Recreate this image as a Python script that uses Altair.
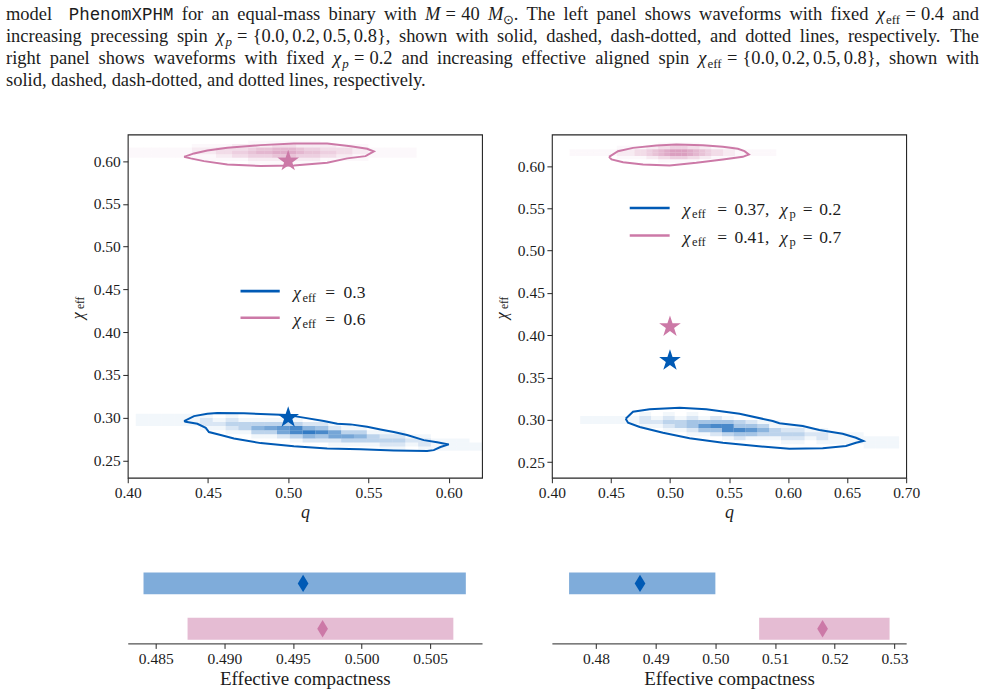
import altair as alt
import pandas as pd

# ------------------------------------------------------------------ colours / fonts
BLUE = "#005AB5"
PINK = "#CC79A7"
INK = "#1c1c1c"
FRAME = "#262626"
SERIF = "Liberation Serif"
MONO = "Liberation Mono"

RUNS = ["blue", "pink"]

# ------------------------------------------------------------------ data
# Left panel: injections chi_eff = 0.3 (blue) and 0.6 (pink), q = 0.5.
# 90% credible contours in (q, chi_eff).
LB_Q = [0.4351, 0.4413, 0.4496, 0.4558, 0.4724, 0.4994, 0.5077, 0.5222, 0.5306, 0.5389,
        0.5492, 0.5575, 0.5658, 0.5741, 0.5845, 0.5928, 0.6001, 0.5949, 0.5907, 0.5866,
        0.5658, 0.5451, 0.5243, 0.5035, 0.4828, 0.4662, 0.4579, 0.4506, 0.4486, 0.4434, 0.4361]
LB_CHI = [0.2960, 0.3018, 0.3045, 0.3053, 0.3050, 0.3030, 0.3006, 0.2960, 0.2928, 0.2921,
          0.2893, 0.2862, 0.2831, 0.2796, 0.2737, 0.2711, 0.2687, 0.2656, 0.2620, 0.2609,
          0.2617, 0.2629, 0.2640, 0.2664, 0.2702, 0.2757, 0.2796, 0.2831, 0.2881, 0.2928, 0.2951]
LP_Q = [0.4351, 0.4413, 0.4496, 0.4621, 0.4828, 0.5035, 0.5243, 0.5389, 0.5492, 0.5534,
        0.5482, 0.5368, 0.5243, 0.5035, 0.4828, 0.4621, 0.4475, 0.4392]
LP_CHI = [0.6050, 0.6090, 0.6125, 0.6156, 0.6187, 0.6207, 0.6207, 0.6175, 0.6144, 0.6113,
          0.6058, 0.6032, 0.5980, 0.5950, 0.5942, 0.5961, 0.6000, 0.6032]

# Right panel: (chi_eff, chi_p) = (0.37, 0.2) blue and (0.41, 0.7) pink, q = 0.5.
RB_Q = [0.4625, 0.4687, 0.4828, 0.5082, 0.5307, 0.5589, 0.5870, 0.5927, 0.6124, 0.6265,
        0.6462, 0.6575, 0.6637, 0.6575, 0.6490, 0.6293, 0.6011, 0.5730, 0.5448, 0.5166,
        0.4941, 0.4744, 0.4645]
RB_CHI = [0.3012, 0.3095, 0.3123, 0.3142, 0.3123, 0.3071, 0.2985, 0.2958, 0.2926, 0.2878,
          0.2835, 0.2787, 0.2748, 0.2728, 0.2689, 0.2662, 0.2657, 0.2689, 0.2728, 0.2780,
          0.2846, 0.2914, 0.2965]
RP_Q = [0.4484, 0.4560, 0.4687, 0.4885, 0.5054, 0.5279, 0.5448, 0.5575, 0.5631, 0.5668,
        0.5617, 0.5448, 0.5223, 0.4997, 0.4772, 0.4603, 0.4505]
RP_CHI = [0.6110, 0.6177, 0.6216, 0.6245, 0.6257, 0.6248, 0.6228, 0.6205, 0.6177, 0.6138,
          0.6110, 0.6079, 0.6039, 0.6008, 0.6020, 0.6047, 0.6079]

# Injected values (stars)
L_INJ_Q, L_INJ_CHI = [0.5, 0.5], [0.30, 0.60]
R_INJ_Q, R_INJ_CHI = [0.5, 0.5], [0.37, 0.41]

# 2D posterior histograms: first q edge, q bin width, top chi_eff edge, chi_eff bin width,
# then relative counts (0-9) per row, top row first.
LB_GRID = (0.405, 0.008, 0.3093, 0.0048)
LB_COUNTS = [
    "000000000000000000000000000",
    "111111010000000000000000000",
    "111112121111100000000000000",
    "111112233333322100000000000",
    "000001123567854211000000000",
    "000000011336898633111000000",
    "000000000112354665322110000",
    "000000000000122233333221110",
    "000000000000000111122121111",
    "000000000000000000011011111",
]
LP_GRID = (0.400, 0.005, 0.624, 0.004)
LP_COUNTS = [
    "0000000000000001111111110000000000000000",
    "0000000011111222223332222211110000000000",
    "1111111122233334556665443333221111110000",
    "1111111122233445667776554433221111110000",
    "1111111111122334445554443322111111110000",
    "0000000011111112222222221111110000000000",
    "0000000000000001111111110000000000000000",
]
RB_GRID = (0.424, 0.010, 0.3093, 0.0048)
RB_COUNTS = [
    "000001010100000000000000000",
    "111112121212100000000000000",
    "111112233444432110000000000",
    "000001123478844311100000000",
    "000000011244887532211000000",
    "000000000112344333322111000",
    "000000000000121112212111111",
    "000000000000000001101111111",
    "000000000000000000000000111",
]
RP_GRID = (0.415, 0.005, 0.628, 0.004)
RP_COUNTS = [
    "00000000000000011111110000000000000000",
    "00000000111112233444332211110000000000",
    "11111111222334567888765433221111111000",
    "11111111222334567888765433221111111000",
    "00000000111112233444332211110000000000",
    "00000000000000011111110000000000000000",
]

# Effective compactness: 90% interval and median, blue / pink runs
L_C_LO, L_C_HI, L_C_MED = [0.48411, 0.48732], [0.50760, 0.50669], [0.49574, 0.49716]
R_C_LO, R_C_HI, R_C_MED = [0.47550, 0.50733], [0.50000, 0.52917], [0.48738, 0.51795]

# Axis settings
L_X_DOMAIN, L_Y_DOMAIN = [0.40, 0.6208], [0.2297, 0.6312]
R_X_DOMAIN, R_Y_DOMAIN = [0.40, 0.70], [0.2314, 0.6375]
L_X_TICKS = [0.40, 0.45, 0.50, 0.55, 0.60]
R_X_TICKS = [0.40, 0.45, 0.50, 0.55, 0.60, 0.65, 0.70]
Y_TICKS = [0.25, 0.30, 0.35, 0.40, 0.45, 0.50, 0.55, 0.60]
LB_X_DOMAIN, LB_X_TICKS = [0.48296, 0.50878], [0.485, 0.490, 0.495, 0.500, 0.505]
RB_X_DOMAIN, RB_X_TICKS = [0.47262, 0.53195], [0.48, 0.49, 0.50, 0.51, 0.52, 0.53]

# ------------------------------------------------------------------ layout
PAGE_W, PAGE_H = 987, 697
PANEL_W, PANEL_H = 355, 344
BOT_H = 92
CAP_H = 59
COL_GAP, ROW_GAP = 70, 74
PAD_LEFT = 127
BOTTOM_MARGIN = PAGE_H - (CAP_H + ROW_GAP + PANEL_H + ROW_GAP + BOT_H)

STAR = ("M0,-1L0.2245,-0.309L0.9511,-0.309L0.3633,0.118L0.5878,0.809L0,0.382"
        "L-0.5878,0.809L-0.3633,0.118L-0.9511,-0.309L-0.2245,-0.309Z")
THIN_DIAMOND = "M0,-1L0.62,0L0,1L-0.62,0Z"

# shading of histogram cells: piecewise-linear opacity against relative count
HEAT_STOPS = [0, 1, 2, 3, 5, 9]
HEAT_OPACITY = [0.0, 0.05, 0.15, 0.26, 0.45, 0.8]

COLORS = alt.Scale(domain=RUNS, range=[BLUE, PINK])
ONE = pd.DataFrame({"k": [0]})


def hist_frame(counts, grid, run):
    q0, dq, c_top, dc = grid
    recs = []
    for i, row in enumerate(counts):
        for j, ch in enumerate(row):
            v = int(ch)
            if v:
                recs.append(dict(q=q0 + j * dq, q2=q0 + (j + 1) * dq,
                                 chi=c_top - (i + 1) * dc, chi2=c_top - i * dc, w=v, run=run))
    return pd.DataFrame(recs)


def contour_frame(qs, cs, run):
    qs = list(qs) + [qs[0]]
    cs = list(cs) + [cs[0]]
    return pd.DataFrame({"q": qs, "chi": cs, "i": range(len(qs)), "run": run})


def txt(s, x, y, size, style="normal", font=SERIF, align="left", baseline="alphabetic", angle=0):
    kw = dict(text=s, font=font, fontSize=size, fontStyle=style, align=align,
              baseline=baseline, color=INK)
    if angle:
        kw["angle"] = angle
    return alt.Chart(ONE).mark_text(**kw).encode(x=alt.value(x), y=alt.value(y))


def rule(color, x1, x2, y, width=2.6, opacity=1.0):
    return alt.Chart(ONE).mark_rule(color=color, strokeWidth=width, opacity=opacity).encode(
        x=alt.value(x1), x2=alt.value(x2), y=alt.value(y))


def y_title():
    return [txt("χ", -50, 185.3, 16, style="italic", baseline="middle", angle=270),
            txt("eff", -46.5, 175, 11.5, baseline="middle", angle=270)]


def top_panel(heat, contour, stars, xdom, xticks, ydom, extras):
    xs = alt.Scale(domain=xdom, nice=False, zero=False)
    ys = alt.Scale(domain=ydom, nice=False, zero=False)
    x_axis = alt.Axis(values=xticks, format=".2f", title="q", titleFontStyle="italic",
                      titleFontSize=18, titlePadding=2, domain=False, tickSize=5,
                      labelPadding=3, labelFlush=False, labelOverlap=False)
    y_axis = alt.Axis(values=Y_TICKS, format=".2f", title="", domain=False, tickSize=5,
                      labelPadding=2.5, labelOverlap=False)
    X = lambda f: alt.X(f, type="quantitative", scale=xs, axis=x_axis)
    Y = lambda f: alt.Y(f, type="quantitative", scale=ys, axis=y_axis)
    col = alt.Color("run:N", scale=COLORS, legend=None)

    h = alt.Chart(heat).mark_rect(clip=True, strokeWidth=0).encode(
        x=X("q"), x2=alt.X2("q2"), y=Y("chi"), y2=alt.Y2("chi2"), color=col,
        opacity=alt.Opacity("w:Q", scale=alt.Scale(type="linear", domain=HEAT_STOPS,
                                                   range=HEAT_OPACITY), legend=None))
    c = alt.Chart(contour).mark_line(clip=True, strokeWidth=2).encode(
        x=X("q"), y=Y("chi"), color=col, order="i:Q")
    s = alt.Chart(stars).mark_point(shape=STAR, filled=True, size=520, opacity=1).encode(
        x=X("q"), y=Y("chi"), color=col)
    return alt.layer(h, c, s, *extras).properties(
        width=PANEL_W, height=PANEL_H, view=alt.ViewBackground(stroke=FRAME, strokeWidth=1.1))


def bottom_panel(lo, hi, med, xdom, xticks, fmt, extras=()):
    df = pd.DataFrame({"run": RUNS, "pos": [1, 0], "lo": lo, "hi": hi, "med": med})
    xs = alt.Scale(domain=xdom, nice=False, zero=False)
    ys = alt.Scale(domain=[-0.213, 1.591], nice=False, zero=False)
    ax = alt.Axis(values=xticks, format=fmt, title="Effective compactness", titleFontSize=19,
                  titlePadding=3, labelFlush=False, labelOverlap=False, tickSize=5, labelPadding=3)
    col = alt.Color("run:N", scale=COLORS, legend=None)
    bars = alt.Chart(df).mark_bar(size=22, opacity=0.5).encode(
        x=alt.X("lo:Q", scale=xs, axis=ax), x2=alt.X2("hi"),
        y=alt.Y("pos:Q", scale=ys, axis=None), color=col)
    meds = alt.Chart(df).mark_point(shape=THIN_DIAMOND, filled=True, size=300, opacity=1).encode(
        x=alt.X("med:Q", scale=xs, axis=ax), y=alt.Y("pos:Q", scale=ys, axis=None), color=col)
    return alt.layer(bars, meds, *extras).properties(width=PANEL_W, height=BOT_H)


# ------------------------------------------------------------------ caption (justified text)
TIMES = {" ": .25, ",": .25, ".": .25, "-": .333, "{": .48, "}": .48, "=": .564,
         "T": .611, "M": .889, "P": .556, "X": .722, "H": .722,
         "a": .444, "b": .5, "c": .444, "d": .5, "e": .444, "f": .333, "g": .5, "h": .5,
         "i": .278, "k": .5, "l": .278, "m": .778, "n": .5, "o": .5, "p": .5, "q": .5,
         "r": .333, "s": .389, "t": .278, "u": .5, "v": .5, "w": .722, "x": .5, "y": .5,
         "⊙": .8}
TIMES.update({str(d): .5 for d in range(10)})
ITALIC = {"M": .833, "p": .5, "χ": .5}
CAP_SIZE = {"R": 18.5, "I": 18.5, "M": 17.5, "S": 13, "SI": 13}
CAP_FONT = {"R": (SERIF, "normal"), "I": (SERIF, "italic"), "M": (MONO, "normal"),
            "S": (SERIF, "normal"), "SI": (SERIF, "italic")}
SUB_DY = 3.8
GAP = {"math": 0.278 * 18.5, "thin": 0.167 * 18.5, "none": 0.0, "start": 0.0}
LINE_LEFT, LINE_RIGHT = 5, 980

CAPTION = [
    (18.5, True, [("model", "R", "start"), ("PhenomXPHM", "M", "sp2"), ("for", "R", "sp"),
                  ("an", "R", "sp"), ("equal-mass", "R", "sp"), ("binary", "R", "sp"),
                  ("with", "R", "sp"), ("M", "I", "sp"), ("=", "R", "math"), ("40", "R", "math"),
                  ("M", "I", "sp"), ("⊙", "S", "none"), (".", "R", "none"), ("The", "R", "sp"),
                  ("left", "R", "sp"), ("panel", "R", "sp"), ("shows", "R", "sp"),
                  ("waveforms", "R", "sp"), ("with", "R", "sp"), ("fixed", "R", "sp"),
                  ("χ", "I", "sp"), ("eff", "S", "none"), ("=", "R", "math"),
                  ("0.4", "R", "math"), ("and", "R", "sp")]),
    (40.5, True, [("increasing", "R", "start"), ("precessing", "R", "sp"), ("spin", "R", "sp"),
                  ("χ", "I", "sp"), ("p", "SI", "none"), ("=", "R", "math"),
                  ("{0.0,", "R", "math"), ("0.2,", "R", "thin"), ("0.5,", "R", "thin"),
                  ("0.8},", "R", "thin"), ("shown", "R", "sp"), ("with", "R", "sp"),
                  ("solid,", "R", "sp"), ("dashed,", "R", "sp"), ("dash-dotted,", "R", "sp"),
                  ("and", "R", "sp"), ("dotted", "R", "sp"), ("lines,", "R", "sp"),
                  ("respectively.", "R", "sp"), ("The", "R", "sp")]),
    (62.5, True, [("right", "R", "start"), ("panel", "R", "sp"), ("shows", "R", "sp"),
                  ("waveforms", "R", "sp"), ("with", "R", "sp"), ("fixed", "R", "sp"),
                  ("χ", "I", "sp"), ("p", "SI", "none"), ("=", "R", "math"), ("0.2", "R", "math"),
                  ("and", "R", "sp"), ("increasing", "R", "sp"), ("effective", "R", "sp"),
                  ("aligned", "R", "sp"), ("spin", "R", "sp"), ("χ", "I", "sp"),
                  ("eff", "S", "none"), ("=", "R", "math"), ("{0.0,", "R", "math"),
                  ("0.2,", "R", "thin"), ("0.5,", "R", "thin"), ("0.8},", "R", "thin"),
                  ("shown", "R", "sp"), ("with", "R", "sp")]),
    (84.5, False, [("solid,", "R", "start"), ("dashed,", "R", "sp"), ("dash-dotted,", "R", "sp"),
                   ("and", "R", "sp"), ("dotted", "R", "sp"), ("lines,", "R", "sp"),
                   ("respectively.", "R", "sp")]),
]


def word_width(text, kind):
    if kind == "M":
        return 0.6 * CAP_SIZE["M"] * len(text)
    table = ITALIC if kind in ("I", "SI") else {}
    return CAP_SIZE[kind] * sum(table.get(ch, TIMES.get(ch, 0.5)) for ch in text)


def set_line(baseline, justify, tokens):
    widths = [word_width(t, k) for t, k, _ in tokens]
    fixed = sum(GAP[g] for _, _, g in tokens if g in GAP)
    n_sp = sum({"sp": 1, "sp2": 2}.get(g, 0) for _, _, g in tokens)
    space = 0.25 * CAP_SIZE["R"]
    if justify:
        space = (LINE_RIGHT - LINE_LEFT - sum(widths) - fixed) / n_sp
    x, out = LINE_LEFT, []
    for (t, k, g), w in zip(tokens, widths):
        x += GAP[g] if g in GAP else space * {"sp": 1, "sp2": 2}[g]
        out.append(dict(t=t, kind=k, x=x - PAD_LEFT,
                        y=baseline + (SUB_DY if k in ("S", "SI") else 0)))
        x += w
    return out


cap_rows = []
for baseline, justify, tokens in CAPTION:
    cap_rows += set_line(baseline, justify, tokens)
cap_df = pd.DataFrame(cap_rows)

cap_layers = []
for kind in ["R", "I", "M", "S", "SI"]:
    font, style = CAP_FONT[kind]
    cap_layers.append(
        alt.Chart(cap_df[cap_df["kind"] == kind]).mark_text(
            font=font, fontSize=CAP_SIZE[kind], fontStyle=style, align="left",
            baseline="alphabetic", color=INK).encode(
            x=alt.X("x:Q", scale=None, axis=None), y=alt.Y("y:Q", scale=None, axis=None),
            text="t:N"))
# invisible page edge: fixes the top-left corner and right edge of the page
cap_layers.append(rule("#ffffff", -PAD_LEFT, PAGE_W - PAD_LEFT, 0, width=0.01, opacity=0))
caption = alt.layer(*cap_layers).properties(width=PANEL_W, height=CAP_H)
# empty companion cell to the right of the caption
spacer = alt.Chart(ONE).mark_point(opacity=0, size=1).encode(
    x=alt.value(PANEL_W / 2), y=alt.value(CAP_H / 2)).properties(width=PANEL_W, height=CAP_H)

# ------------------------------------------------------------------ panels
left_heat = pd.concat([hist_frame(LB_COUNTS, LB_GRID, "blue"), hist_frame(LP_COUNTS, LP_GRID, "pink")])
right_heat = pd.concat([hist_frame(RB_COUNTS, RB_GRID, "blue"), hist_frame(RP_COUNTS, RP_GRID, "pink")])
left_contour = pd.concat([contour_frame(LB_Q, LB_CHI, "blue"), contour_frame(LP_Q, LP_CHI, "pink")])
right_contour = pd.concat([contour_frame(RB_Q, RB_CHI, "blue"), contour_frame(RP_Q, RP_CHI, "pink")])
left_stars = pd.DataFrame({"q": L_INJ_Q, "chi": L_INJ_CHI, "run": RUNS})
right_stars = pd.DataFrame({"q": R_INJ_Q, "chi": R_INJ_CHI, "run": RUNS})

left_extras = y_title()
for color, yl, val in [(BLUE, 157, "0.3"), (PINK, 183.7, "0.6")]:
    left_extras += [rule(color, 113, 152.3, yl),
                    txt("χ", 165.8, yl + 7, 17.5, style="italic"),
                    txt("eff", 175, yl + 10.5, 12.5),
                    txt("=", 198, yl + 7, 17.5),
                    txt(val, 216.3, yl + 7, 17.5)]

right_extras = y_title()
for color, yl, v1, v2 in [(BLUE, 73.7, "0.37,", "0.2"), (PINK, 101.3, "0.41,", "0.7")]:
    right_extras += [rule(color, 78, 118, yl),
                     txt("χ", 131.2, yl + 7, 17.5, style="italic"),
                     txt("eff", 140.5, yl + 10.5, 12.5),
                     txt("=", 165.7, yl + 7, 17.5),
                     txt(v1, 183, yl + 7, 17.5),
                     txt("χ", 228.5, yl + 7, 17.5, style="italic"),
                     txt("p", 238, yl + 10.5, 12.5),
                     txt("=", 251.3, yl + 7, 17.5),
                     txt(v2, 268, yl + 7, 17.5)]

top_left = top_panel(left_heat, left_contour, left_stars, L_X_DOMAIN, L_X_TICKS, L_Y_DOMAIN, left_extras)
top_right = top_panel(right_heat, right_contour, right_stars, R_X_DOMAIN, R_X_TICKS, R_Y_DOMAIN, right_extras)
# invisible page edge below the bottom row
page_floor = [rule("#ffffff", 0, 1, BOT_H + BOTTOM_MARGIN, width=0.01, opacity=0)]
bot_left = bottom_panel(L_C_LO, L_C_HI, L_C_MED, LB_X_DOMAIN, LB_X_TICKS, ".3f", page_floor)
bot_right = bottom_panel(R_C_LO, R_C_HI, R_C_MED, RB_X_DOMAIN, RB_X_TICKS, ".2f")

chart = alt.concat(
    caption, spacer, top_left, top_right, bot_left, bot_right,
    columns=2, spacing=alt.RowColnumber(row=ROW_GAP, column=COL_GAP), bounds="flush",
).properties(
    padding=0,
).configure_view(stroke="transparent").configure_axis(
    labelFont=SERIF, labelFontSize=15.5, labelColor=INK, titleFont=SERIF, titleColor=INK,
    titleFontWeight="normal", tickColor=FRAME, domainColor=FRAME, tickWidth=1, domainWidth=1,
    grid=False,
)

chart.save("out.html", embed_options={"renderer": "svg", "actions": False})
